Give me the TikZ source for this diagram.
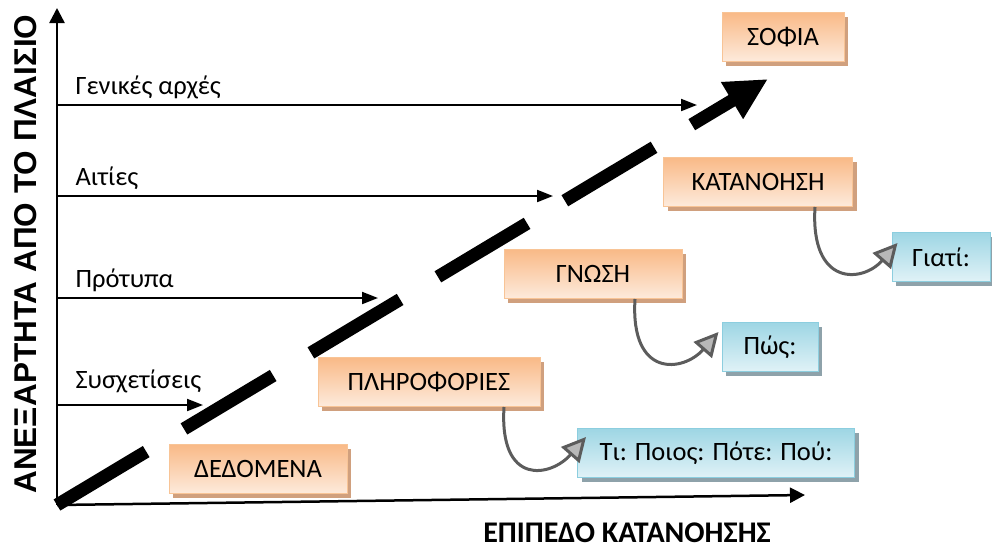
\documentclass[tikz,border=0pt]{standalone}
\usepackage{fontspec}
\setmainfont{Carlito}
\newfontfamily\axisfont{Liberation Sans}
\usetikzlibrary{arrows.meta,shadows}

\definecolor{orDark}{RGB}{249,186,135}
\definecolor{orLight}{RGB}{253,234,220}
\definecolor{orEdge}{RGB}{248,196,150}
\definecolor{orShadow}{RGB}{208,160,126}
\definecolor{blDark}{RGB}{158,214,228}
\definecolor{blLight}{RGB}{224,242,247}
\definecolor{blEdge}{RGB}{140,206,223}
\definecolor{blShadow}{RGB}{142,162,170}

\begin{document}
\begin{tikzpicture}
[x=1pt,y=-1pt,%
  card/.style={line width=1pt,minimum height=49pt,inner sep=0pt,font=\fontsize{26.5}{30}\selectfont},%
  level/.style={card,draw=orEdge,top color=orDark,bottom color=orLight,%
    drop shadow={shadow xshift=4pt,shadow yshift=-4pt,fill=orShadow,opacity=1}},%
  ask/.style={card,draw=blEdge,top color=blDark,bottom color=blLight,%
    drop shadow={shadow xshift=4pt,shadow yshift=-4pt,fill=blShadow,opacity=1}},%
  axis/.style={line width=2.5pt,-{Triangle[length=15pt,width=15pt]}},%
  rung/.style={line width=2pt,-{Triangle[length=16pt,width=12pt]}},%
  rungtext/.style={anchor=west,font=\fontsize{26.5}{30}\selectfont},%
  climb/.style={line width=13pt,dash pattern=on 104pt off 44pt,-{Triangle[length=42pt,width=40pt]}},%
  hook/.style={draw=black!64,line width=3pt,-{Triangle[length=24pt,width=24pt,fill=black!28]}}]
\useasboundingbox (0,0) rectangle (992,549);

% axes
\coordinate (origin) at (57,505);
\coordinate (ytop) at (57,8);
\coordinate (xend) at (805,495);
\draw[axis] (origin) -- (ytop);
\draw[axis] (origin) -- (xend);
\node[rotate=90,font=\axisfont\fontsize{31.5}{34}\selectfont\bfseries] (ylab) at (26,254) {ΑΝΕΞΑΡΤΗΤΑ ΑΠΟ ΤΟ ΠΛΑΙΣΙΟ};
\node[font=\fontsize{30}{34}\selectfont\bfseries] (xlab) at (627,533) {ΕΠΙΠΕΔΟ ΚΑΤΑΝΟΗΣΗΣ};

% rungs
\coordinate (r1) at (57,405); \coordinate (r1e) at (203,405);
\coordinate (r2) at (57,298); \coordinate (r2e) at (378,298);
\coordinate (r3) at (57,196); \coordinate (r3e) at (553,196);
\coordinate (r4) at (57,105); \coordinate (r4e) at (697,105);
\draw[rung] (r1) -- (r1e);
\draw[rung] (r2) -- (r2e);
\draw[rung] (r3) -- (r3e);
\draw[rung] (r4) -- (r4e);
\node[rungtext] (t1) at (72,381) {Συσχετίσεις};
\node[rungtext] (t2) at (72,280) {Πρότυπα};
\node[rungtext] (t3) at (72,178) {Αιτίες};
\node[rungtext] (t4) at (72,87) {Γενικές αρχές};

% big dashed arrow
\coordinate (peak) at (768,79);
\draw[climb] (origin) -- (peak);

% levels
\node[level,minimum width=178pt] (dedomena) at (258,469) {ΔΕΔΟΜΕΝΑ};
\node[level,minimum width=222pt] (plir) at (429,382) {ΠΛΗΡΟΦΟΡΙΕΣ};
\node[level,minimum width=178pt] (gnosi) at (593,274) {ΓΝΩΣΗ};
\node[level,minimum width=189pt] (katan) at (758,182) {ΚΑΤΑΝΟΗΣΗ};
\node[level,minimum width=122pt] (sofia) at (783,37) {ΣΟΦΙΑ};

% questions
\node[ask,minimum width=277pt] (ti) at (716,453) {Τι: Ποιος: Πότε: Πού:};
\node[ask,minimum width=96pt] (pos) at (770,347) {Πώς:};
\node[ask,minimum width=98pt] (giati) at (941,257) {Γιατί:};

\draw[hook] ([xshift=75pt]plir.south) .. controls +(-5,80) and +(-35,40) .. ([xshift=9pt,yshift=16pt]ti.west);
\draw[hook] ([xshift=42pt]gnosi.south) .. controls +(-5,80) and +(-35,40) .. ([xshift=-3pt,yshift=15pt]pos.west);
\draw[hook] ([xshift=57pt]katan.south) .. controls +(-5,80) and +(-35,40) .. ([xshift=6pt,yshift=14pt]giati.west);
\end{tikzpicture}
\end{document}
